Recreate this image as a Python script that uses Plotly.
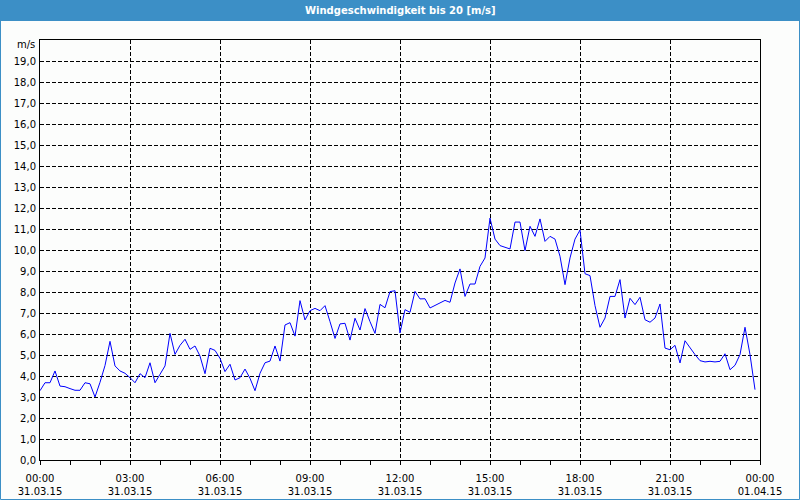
import pandas as pd
import plotly.graph_objects as go

# wind speed (m/s), 10-minute values, 31.03.15 00:00 - 23:50
seg1 = [3.3, 3.68, 3.68, 4.24, 3.52, 3.49, 3.40, 3.32, 3.32, 3.68,
        3.63, 3.0, 3.7, 4.5, 5.65, 4.48, 4.24, 4.13, 3.92, 3.68,
        4.11, 3.92, 4.63, 3.68, 4.08, 4.48, 6.03, 5.03, 5.46, 5.75,
        5.27, 5.43, 4.95, 4.11, 5.32, 5.22]
seg2 = [4.84, 4.21, 4.56, 3.81, 3.92, 4.33, 3.89, 3.30, 4.13, 4.63,
        4.71, 5.43, 4.71, 6.43, 6.54, 5.90, 7.59, 6.67, 7.11, 7.22,
        7.11, 7.35, 6.59, 5.79, 6.48, 6.51, 5.71, 6.75, 6.19, 7.21,
        6.59, 6.03, 7.41, 7.25, 8.02, 8.06]
seg3 = [6.05, 7.16, 7.03, 8.03, 7.67, 7.68, 7.24, 7.37, 7.48, 7.60,
        7.51, 8.43, 9.10, 7.79, 8.38, 8.38, 9.22, 9.62, 11.52, 10.52,
        10.21, 10.13, 10.05, 11.33, 11.33, 9.97, 11.13, 10.65, 11.48, 10.41,
        10.65, 10.52, 9.70, 8.35, 9.62, 10.52]
seg4 = [10.95, 8.87, 8.78, 7.35, 6.32, 6.76, 7.79, 7.79, 8.59, 6.76,
        7.70, 7.40, 7.75, 6.68, 6.56, 6.76, 7.43, 5.33, 5.25, 5.46,
        4.62, 5.68, 5.33, 5.02, 4.73, 4.67, 4.70, 4.67, 4.70, 5.06,
        4.30, 4.51, 5.02, 6.32, 5.02, 3.35]
speed = seg1 + seg2 + seg3 + seg4
times = pd.date_range("2015-03-31 00:00", periods=len(speed), freq="10min")

x_tickvals = ["2015-03-31 00:00", "2015-03-31 03:00", "2015-03-31 06:00",
              "2015-03-31 09:00", "2015-03-31 12:00", "2015-03-31 15:00",
              "2015-03-31 18:00", "2015-03-31 21:00", "2015-04-01 00:00"]
x_ticktext = ["00:00<br>31.03.15", "03:00<br>31.03.15", "06:00<br>31.03.15",
              "09:00<br>31.03.15", "12:00<br>31.03.15", "15:00<br>31.03.15",
              "18:00<br>31.03.15", "21:00<br>31.03.15", "00:00<br>01.04.15"]
y_tickvals = list(range(0, 20))
y_ticktext = [f"{v},0" for v in y_tickvals]

title_text = "Windgeschwindigkeit bis 20 [m/s]"
unit_text = "m/s"

BAR = "#3c8fc6"
BG = "#fcfdfc"
W, H = 800, 500
L, R, T, B = 40, 40, 40, 40
pw, ph = W - L - R, H - T - B

def px_x(p):
    return (p - L) / pw

def px_y(p):
    return (H - B - p) / ph

fig = go.Figure()
fig.add_trace(go.Scatter(x=times, y=speed, mode="lines",
                         line=dict(color="#0000ff", width=1),
                         hoverinfo="x+y", showlegend=False))

grid = dict(gridcolor="#000000", gridwidth=1, griddash="4px,2px")
fig.update_layout(
    width=W, height=H,
    margin=dict(l=L, r=R, t=T, b=B, autoexpand=False),
    paper_bgcolor=BG, plot_bgcolor=BG,
    font=dict(family="DejaVu Sans", size=10, color="#000000"),
    xaxis=dict(range=["2015-03-31 00:00", "2015-04-01 00:00"],
               tickmode="array", tickvals=x_tickvals, ticktext=x_ticktext,
               showline=True, linecolor="#000000", linewidth=1, mirror=True,
               ticks="outside", ticklen=4, tickcolor="#000000",
               ticklabelstandoff=5, automargin=False,
               showgrid=True, zeroline=False,
               minor=dict(dtick=3600000, tick0="2015-03-31", ticks="outside",
                          ticklen=4, tickcolor="#000000", showgrid=False),
               **grid),
    yaxis=dict(range=[0, 20], tickmode="array", tickvals=y_tickvals,
               ticktext=y_ticktext, showline=True, linecolor="#000000",
               linewidth=1, mirror=True, ticks="", zeroline=False,
               ticklabelstandoff=1, automargin=False,
               showgrid=True, **grid),
    shapes=[
        dict(type="rect", xref="paper", yref="paper",
             x0=px_x(0), x1=px_x(W), y0=px_y(21), y1=px_y(0),
             fillcolor=BAR, line=dict(width=0), layer="above"),
        dict(type="rect", xref="paper", yref="paper",
             x0=px_x(0.5), x1=px_x(W - 0.5), y0=px_y(H - 0.5), y1=px_y(0.5),
             fillcolor="rgba(0,0,0,0)", line=dict(color=BAR, width=1), layer="above"),
    ],
    annotations=[
        dict(text=f"<b>{title_text}</b>", xref="paper", yref="paper",
             x=0.5, y=px_y(10.5), xanchor="center", yanchor="middle",
             showarrow=False, font=dict(color="#ffffff", size=10, family="DejaVu Sans")),
        dict(text=unit_text, xref="paper", yref="paper",
             x=px_x(37), y=px_y(45), xanchor="right", yanchor="middle",
             showarrow=False, font=dict(size=10)),
    ],
)

fig.write_html("out.html")
